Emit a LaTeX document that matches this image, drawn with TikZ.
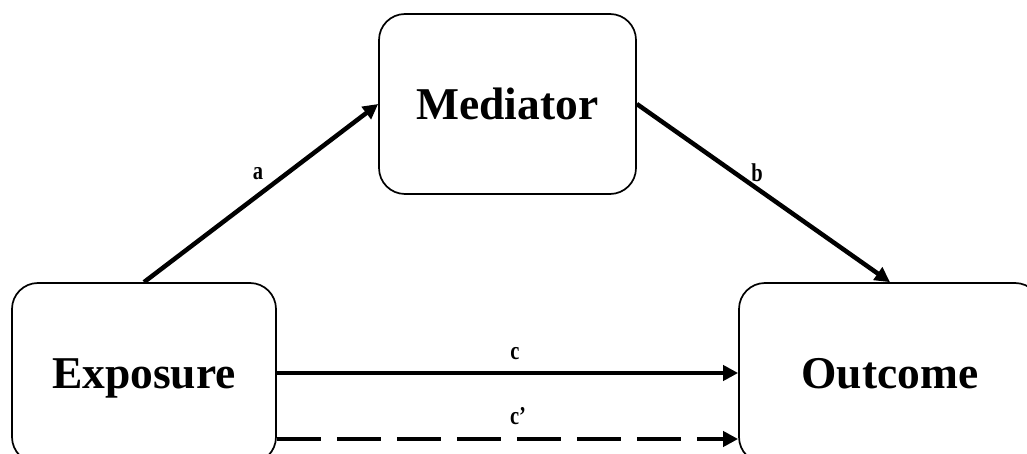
\documentclass[tikz,border=0pt]{standalone}
\usepackage{fontspec}
\setmainfont{Liberation Serif}
\usetikzlibrary{arrows.meta}
\begin{document}
\begin{tikzpicture}[x=1pt,y=-1pt,
  boxnode/.style={draw=black,line width=1.7pt,rounded corners=26pt,minimum width=264pt,minimum height=180pt,inner sep=0pt,text height=31pt,text depth=0pt,font=\fontsize{45.5}{48}\selectfont\bfseries},
  arr/.style={line width=4.5pt,-{Triangle[length=15pt,width=15pt]}},
  lbl/.style={inner sep=0pt,font=\fontsize{20.5}{22}\selectfont\bfseries}]
\useasboundingbox (0,0) rectangle (1027,454);
\node[boxnode,minimum width=257pt] (med) at (507.5,104) {Mediator};
\node[boxnode] (exp) at (144,373) {Exposure};
\node[boxnode,minimum width=302pt] (out) at (890,373) {Outcome};
\draw[arr] (exp.north) -- (med.west);
\draw[arr] (med.east) -- (out.north);
\draw[arr] (exp.east) -- (out.west);
\draw[arr,dash pattern=on 44pt off 16pt] ([yshift=-66pt]exp.east) -- ([yshift=-66pt]out.west);
\node[lbl] (la) at (258,174) {\scalebox{1}[1.25]{a}};
\node[lbl] (lb) at (757,173) {\scalebox{1}[1.25]{b}};
\node[lbl] (lc) at (515,354) {\scalebox{1}[1.25]{c}};
\node[lbl] (lc2) at (518,416) {\scalebox{1}[1.25]{c’}};
\end{tikzpicture}
\end{document}
